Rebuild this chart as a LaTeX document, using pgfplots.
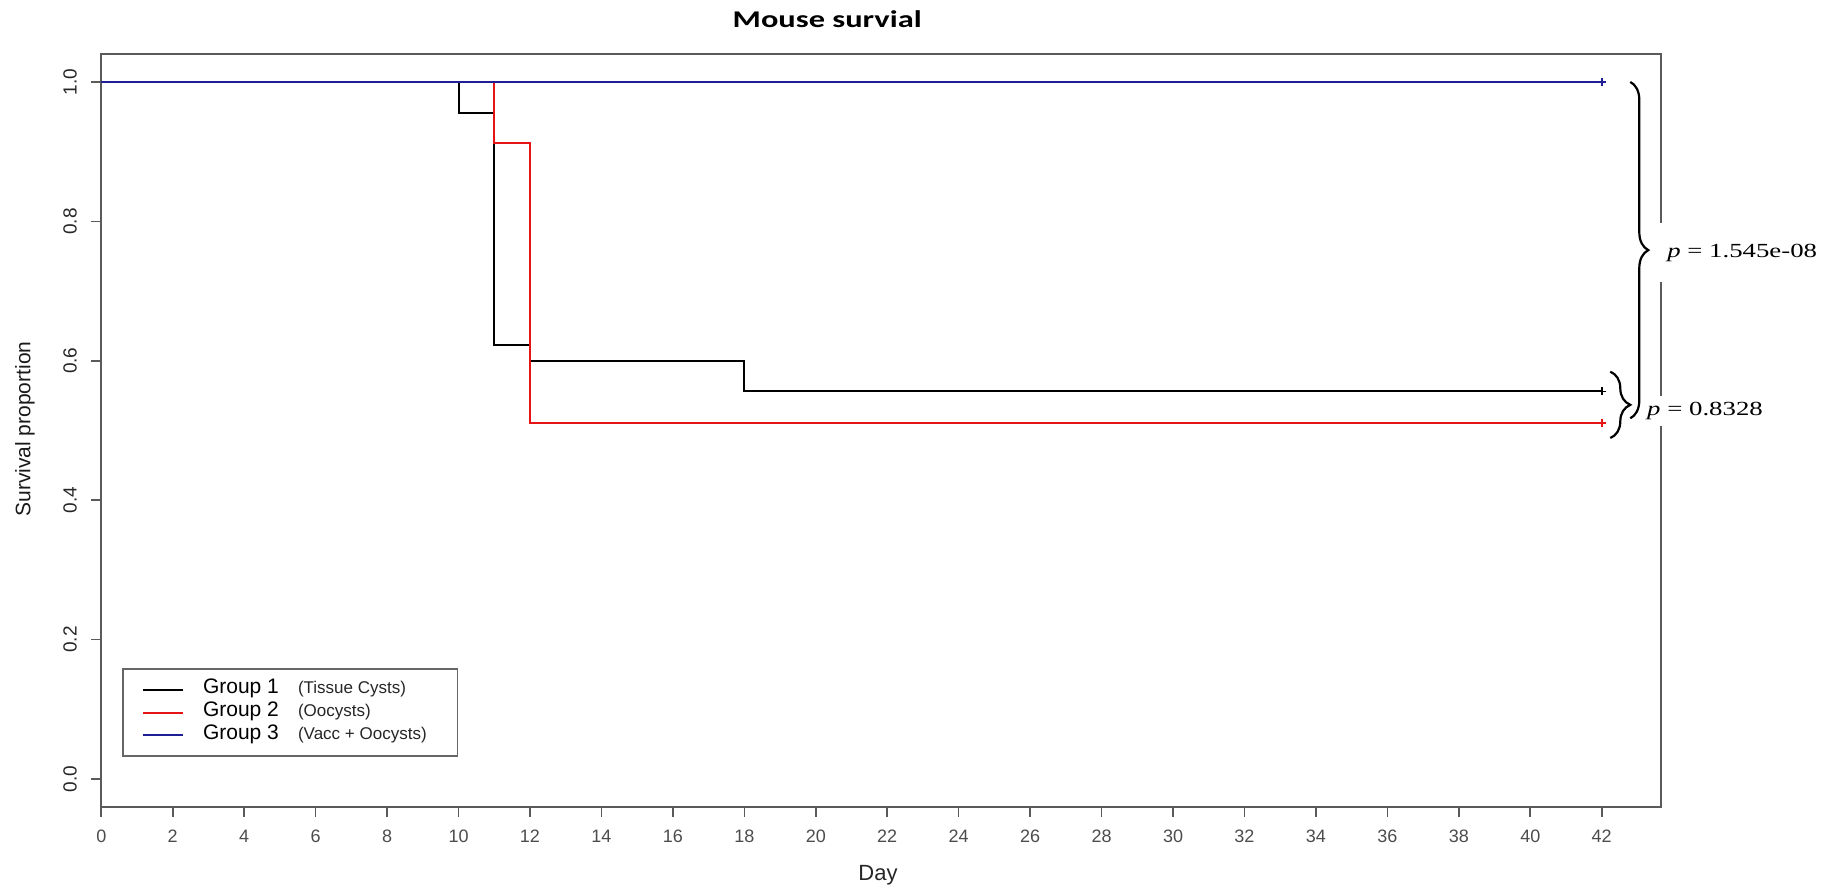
\documentclass[border=0pt]{standalone}
\usepackage{fontspec}
\setmainfont{Liberation Sans}
\newfontfamily\pfont{Liberation Serif}
\newfontfamily\titlefont{Carlito}
\usepackage{graphicx}
\usepackage{pgfplots}
\pgfplotsset{compat=1.18}
\usetikzlibrary{decorations.pathreplacing}
\definecolor{kmblack}{RGB}{0,0,0}
\definecolor{kmred}{RGB}{230,20,20}
\definecolor{kmblue}{RGB}{30,30,150}
\definecolor{framegray}{RGB}{90,90,90}

\begin{document}
\begin{tikzpicture}
\useasboundingbox (-50.65pt,-40.15pt) rectangle (869.85pt,403.35pt);
\begin{axis}[
  at={(0pt,0pt)}, anchor=south west,
  width=779.85pt, height=376.2pt, scale only axis,
  xmin=0, xmax=43.66, ymin=-0.0397, ymax=1.0397,
  clip=false,
  /pgf/number format/assume math mode=true,
  xtick={0,2,...,42},
  ytick={0,0.2,0.4,0.6,0.8,1},
  yticklabels={0.0,0.2,0.4,0.6,0.8,1.0},
  tick pos=left, tick align=outside, major tick length=5pt,
  tick style={framegray, line width=0.8pt},
  axis line style={framegray, line width=1pt},
  xticklabel style={font=\fontsize{9pt}{10pt}\selectfont, text=black!70, anchor=north, inner sep=0pt},
  xticklabel shift=6.65pt,
  yticklabel style={font=\fontsize{9.5pt}{10pt}\selectfont, rotate=90, anchor=south, inner sep=0pt, text=black!85},
  yticklabel shift=7pt,
  xlabel={Day},
  xlabel style={at={(axis description cs:0.498,-0.0908)}, anchor=center, font=\fontsize{11pt}{12pt}\selectfont, text=black!85},
  ylabel={Survival proportion},
  ylabel style={at={(axis description cs:-0.0489,0.502)}, anchor=center, font=\fontsize{10.5pt}{12pt}\selectfont, text=black!90},
  legend style={
    at={(0.0131,0.0657)}, anchor=south west,
    draw=black!60, line width=0.9pt, fill=white,
    inner xsep=9.7pt, inner ysep=4.8pt,
    row sep=0pt,
    font=\fontsize{10.5pt}{11.35pt}\selectfont,
    nodes={inner sep=0pt, text height=7.5pt, text depth=3.85pt},
    /tikz/every odd column/.append style={column sep=9.5pt},
  },
  legend cell align=left,
  legend image code/.code={\draw[#1, line width=1pt] (0pt,0pt) -- (20pt,0pt);},
]
\addplot[const plot, kmblack, line width=1pt] coordinates {(0,1) (10,0.956) (11,0.622) (12,0.6) (18,0.556) (42,0.556)};
\addlegendentry{\makebox[117.5pt][l]{\makebox[47.5pt][l]{Group 1}{\fontsize{8.5pt}{10pt}\selectfont\color{black!85}(Tissue Cysts)}}}
\addplot[const plot, kmred, line width=1pt] coordinates {(0,1) (11,0.913) (12,0.511) (42,0.511)};
\addlegendentry{\makebox[117.5pt][l]{\makebox[47.5pt][l]{Group 2}{\fontsize{8.5pt}{10pt}\selectfont\color{black!85}(Oocysts)}}}
\addplot[const plot, kmblue, line width=1pt] coordinates {(0,1) (42,1)};
\addlegendentry{\makebox[117.5pt][l]{\makebox[47.5pt][l]{Group 3}{\fontsize{8.5pt}{10pt}\selectfont\color{black!85}(Vacc + Oocysts)}}}
% censoring marks
\addplot[forget plot, only marks, mark=+, mark size=2pt, kmblack, line width=0.8pt] coordinates {(42,0.556)};
\addplot[forget plot, only marks, mark=+, mark size=2pt, kmred, line width=0.8pt] coordinates {(42,0.511)};
\addplot[forget plot, only marks, mark=+, mark size=2pt, kmblue, line width=0.8pt] coordinates {(42,1)};
% title
\node[anchor=base, font={\titlefont\bfseries\fontsize{12pt}{14pt}\selectfont}] at (axis cs:20.32,1.0785) {\scalebox{1.35}[1]{Mouse survial}};
% braces
\draw[decorate, decoration={brace, amplitude=9pt}, line width=1.1pt] (axis cs:42.80,1.0) -- (axis cs:42.80,0.5175);
\draw[decorate, decoration={brace, amplitude=10pt}, line width=1.1pt] (axis cs:42.24,0.5844) -- (axis cs:42.24,0.4892);
% p-values
\node[anchor=base west, fill=white, inner xsep=4pt, inner ysep=10pt, text height=7pt, text depth=2.2pt, font={\pfont\fontsize{10pt}{12pt}\selectfont}] at (axis cs:43.60,0.7485) {\scalebox{1.34}[1]{\textit{p} = 1.545e-08}};
\node[anchor=base west, fill=white, inner xsep=2pt, inner ysep=2.5pt, text height=7pt, text depth=3pt, font={\pfont\fontsize{10pt}{12pt}\selectfont}] at (axis cs:43.15,0.5222) {\scalebox{1.34}[1]{\textit{p} = 0.8328}};
\end{axis}
\end{tikzpicture}
\end{document}
